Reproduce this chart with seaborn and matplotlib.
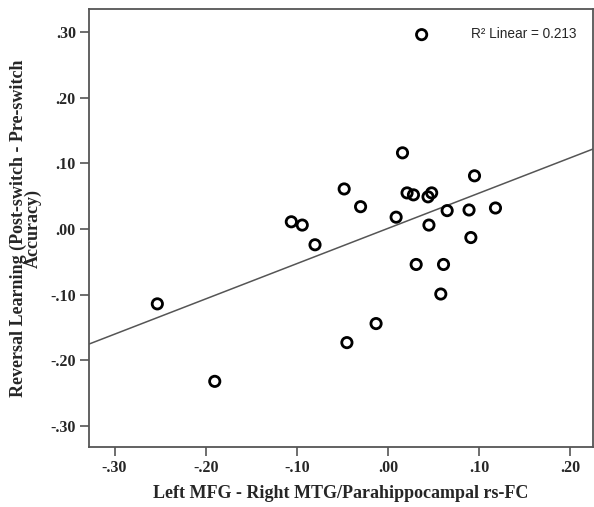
import matplotlib
matplotlib.use('Agg')
import matplotlib.pyplot as plt
import seaborn as sns
import pandas as pd
from matplotlib.ticker import FuncFormatter

# Data
rs_fc = [0.037, 0.016, 0.095, -0.048, 0.021, 0.028, 0.048, 0.044,
         -0.030, 0.118, 0.065, 0.089, 0.009, -0.106, -0.094, 0.045,
         -0.080, 0.091, 0.031, 0.061, 0.058, -0.013, -0.045, -0.253, -0.190]
reversal = [0.296, 0.116, 0.081, 0.061, 0.055, 0.052, 0.055, 0.049,
            0.034, 0.032, 0.028, 0.029, 0.018, 0.011, 0.006, 0.006,
            -0.024, -0.013, -0.054, -0.054, -0.099, -0.144, -0.173, -0.114, -0.232]
x_ticks = [-0.3, -0.2, -0.1, 0.0, 0.1, 0.2]
y_ticks = [-0.3, -0.2, -0.1, 0.0, 0.1, 0.2, 0.3]

data = pd.DataFrame({'rs_fc': rs_fc, 'reversal': reversal})

sns.set_style('white')
plt.rcParams['font.family'] = ['Liberation Serif', 'DejaVu Serif']

fig = plt.figure(figsize=(5.94, 5.07), dpi=100)
ax = fig.add_axes([0.1498, 0.1183, 0.8485, 0.8639])
ax.set_xlim(-0.328, 0.225)
ax.set_ylim(-0.332, 0.335)

# fit line over the full x range
sns.regplot(data=data, x='rs_fc', y='reversal', ax=ax, ci=None, truncate=False,
            scatter=False, line_kws={'color': '#555555', 'linewidth': 1.1})
sns.scatterplot(data=data, x='rs_fc', y='reversal', ax=ax, s=55,
                facecolor='none', edgecolor='black', linewidth=2.0, zorder=3)

ax.set_xlim(-0.328, 0.225)
ax.set_ylim(-0.332, 0.335)
ax.set_xticks(x_ticks)
ax.set_yticks(y_ticks)
fmt = FuncFormatter(lambda v, p: ('-' if v < -1e-9 else '') + ('%.2f' % abs(v))[1:])
ax.xaxis.set_major_formatter(fmt)
ax.yaxis.set_major_formatter(fmt)
ax.tick_params(axis='both', direction='out', length=6.5, width=1.2, color='#555555',
               labelsize=11.5, pad=3, bottom=True, left=True)
for lab in ax.get_xticklabels() + ax.get_yticklabels():
    lab.set_fontweight('bold')
for sp in ax.spines.values():
    sp.set_color('#555555')
    sp.set_linewidth(1.3)

ax.set_xlabel('Left MFG - Right MTG/Parahippocampal rs-FC', fontsize=13,
              fontweight='bold', labelpad=6)
ax.set_ylabel('Reversal Learning (Post-switch - Pre-switch\nAccuracy)', fontsize=13,
              fontweight='bold', labelpad=6, linespacing=0.8)

ax.text(0.863, 0.943, 'R² Linear = 0.213', transform=ax.transAxes, fontsize=9.8,
        family=['Liberation Sans', 'DejaVu Sans'], ha='center', va='center')

fig.savefig('out.png', dpi=100)
